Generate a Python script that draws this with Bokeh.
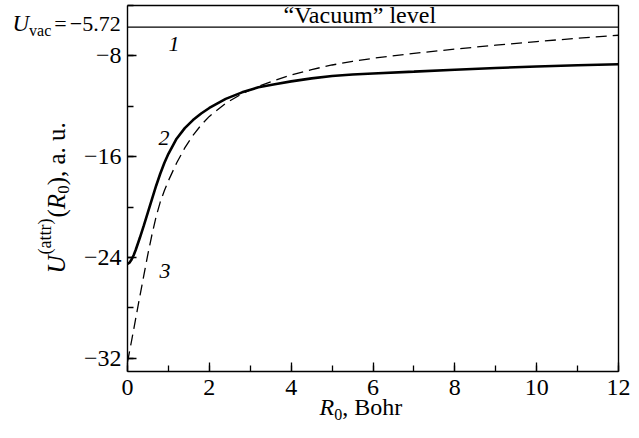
import math
from bokeh.plotting import figure
from bokeh.models import (Label, SingleIntervalTicker, FixedTicker, LinearAxis,
                          CustomJSTickFormatter, ColumnDataSource, Range1d)
from bokeh.embed import file_html
from bokeh.resources import INLINE

# ---------------- data ----------------
R_MIN, R_MAX = 0, 12
U_MIN, U_MAX = -33.04, -4.0
U_VAC = -5.72

# curve 2 (solid)
r_solid = [0.0, 0.05, 0.1, 0.15, 0.2, 0.3, 0.4, 0.5, 0.6, 0.7, 0.8, 0.9, 1.0, 1.2, 1.4,
           1.6, 1.8, 2.0, 2.4, 2.8, 3.2, 3.6, 4.0, 4.5, 5.0, 5.5, 6.0, 7.0, 8.0, 9.0,
           10.0, 11.0, 12.0]
u_solid = [-24.5, -24.4, -24.15, -23.82, -23.4, -22.45, -21.45, -20.4, -19.35, -18.3,
           -17.35, -16.5, -15.77, -14.57, -13.73, -13.09, -12.57, -12.13, -11.41,
           -10.89, -10.49, -10.25, -10.02, -9.78, -9.6, -9.48, -9.39, -9.25, -9.1,
           -8.96, -8.84, -8.74, -8.66]

# curve 3 (dashed)
r_dash = [0.0, 0.1, 0.2, 0.3, 0.4, 0.5, 0.6, 0.7, 0.8, 0.9, 1.0, 1.2, 1.4, 1.6, 1.8,
          2.0, 2.4, 2.8, 3.2, 3.6, 4.0, 4.5, 5.0, 5.5, 6.0, 7.0, 8.0, 9.0, 10.0, 11.0,
          12.0]
u_dash = [-32.3, -30.6, -28.85, -27.1, -25.4, -23.7, -22.15, -20.75, -19.6, -18.7,
          -17.9, -16.5, -15.3, -14.3, -13.48, -12.8, -11.76, -11.0, -10.42, -9.94,
          -9.52, -9.08, -8.72, -8.43, -8.19, -7.8, -7.46, -7.15, -6.86, -6.6, -6.36]

X_TICK_STEP = 2
Y_TICK_STEP = 8
curve_labels = ["1", "2", "3"]

# ---------------- layout ----------------
W, H = 639, 438
FL, FR, FT, FB = 127, 618, 5, 371     # pixel box of the plotting area
SERIF = "Liberation Serif"
MINUS = "\u2212"

kx = (FR - FL) / (R_MAX - R_MIN)
ky = (FB - FT) / (U_MAX - U_MIN)
x_range = Range1d(R_MIN - FL / kx, R_MAX + (W - FR) / kx)
y_range = Range1d(U_MIN - (H - FB) / ky, U_MAX + FT / ky)

p = figure(width=W, height=H, output_backend="svg", toolbar_location=None,
           x_range=x_range, y_range=y_range, x_axis_type=None, y_axis_type=None,
           min_border=0, title=None)
p.grid.visible = False
p.outline_line_color = None
p.background_fill_color = "white"
p.border_fill_color = "white"

fmt = CustomJSTickFormatter(code="return tick < 0 ? '\\u2212' + Math.abs(tick) : String(tick);")


def make_axis(loc, bounds, ticker, labels=True):
    ax = LinearAxis(fixed_location=loc, bounds=bounds, ticker=ticker, formatter=fmt)
    ax.major_tick_in = 9
    ax.major_tick_out = 0
    ax.minor_tick_in = 6
    ax.minor_tick_out = 0
    ax.axis_line_width = 1.4
    ax.axis_line_color = "black"
    ax.major_tick_line_width = 1.3
    ax.minor_tick_line_width = 1.3
    ax.major_label_text_font = SERIF
    ax.major_label_text_font_size = "24px"
    ax.major_label_text_color = "black" if labels else None
    ax.axis_label = None
    return ax


xb = make_axis(U_MIN, (R_MIN, R_MAX), SingleIntervalTicker(interval=X_TICK_STEP, num_minor_ticks=2))
xb.major_label_standoff = 8
yl = make_axis(R_MIN, (U_MIN, U_MAX), SingleIntervalTicker(interval=Y_TICK_STEP, num_minor_ticks=2))
yl.major_label_standoff = 6
xt = make_axis(U_MAX, (R_MIN, R_MAX), FixedTicker(ticks=[], minor_ticks=[]), labels=False)
yr = make_axis(R_MAX, (U_MIN, U_MAX), FixedTicker(ticks=[], minor_ticks=[]), labels=False)
p.add_layout(xb, "below")
p.add_layout(yl, "left")
p.add_layout(xt, "above")
p.add_layout(yr, "right")

src_s = ColumnDataSource(dict(r=r_solid, u=u_solid))
src_d = ColumnDataSource(dict(r=r_dash, u=u_dash))
p.line("r", "u", source=src_d, line_color="black", line_width=1.3, line_dash="11 6")
p.line("r", "u", source=src_s, line_color="black", line_width=2.6)
p.line(x=[R_MIN, R_MAX], y=[U_VAC, U_VAC], line_color="black", line_width=1.3)

BASE_SHIFT = 0.36  # empirical baseline correction (em)


def lab(px, py, text, size, italic=False, rotated=False):
    """px, py: canvas pixel position of the text baseline start."""
    if rotated:
        px = px - BASE_SHIFT * size
    else:
        py = py - BASE_SHIFT * size
    p.add_layout(Label(x=px, y=H - py, x_units="screen", y_units="screen",
                       text=text, text_font=SERIF, text_font_size=f"{size}px",
                       text_font_style="italic" if italic else "normal",
                       text_align="left", text_baseline="alphabetic",
                       angle=math.pi / 2 if rotated else 0.0, text_color="black"))


# Times metrics (per em) for composing pieces
WID = {' ': .25, '(': .333, ')': .333, ',': .25, '.': .25, '=': .564, MINUS: .564,
       '0': .5, '2': .5, '5': .5, '7': .5, 'a': .444, 'c': .444, 'e': .444, 'h': .5,
       'l': .278, 'm': .778, 'o': .5, 'r': .333, 't': .278, 'u': .5, 'v': .5,
       'B': .667, 'V': .722, 'U': .722, 'R': .611}


def tw(s, size):
    return sum(WID.get(c, .5) for c in s) * size


# "Vacuum" level
lab(283, 23, "\u201cVacuum\u201d level", 24)

# U_vac = −5.72
x0 = 12
lab(x0, 31, "U", 23, italic=True)
x0 += tw("U", 23)
lab(x0, 36, "vac", 16)
x0 += tw("vac", 16) + 3
lab(x0, 31, "=", 22)
x0 += tw("=", 22) + 3
lab(x0, 31, MINUS + f"{abs(U_VAC):.2f}", 22)

# curve numbers
lab(168, 51, curve_labels[0], 22, italic=True)
lab(158, 145, curve_labels[1], 22, italic=True)
lab(159, 278, curve_labels[2], 22, italic=True)

# x-axis label: R_0, Bohr
x0 = 319
lab(x0, 415, "R", 24, italic=True)
x0 += tw("R", 24)
lab(x0, 420, "0", 16)
x0 += tw("0", 16)
lab(x0, 415, ", Bohr", 24)

# y-axis label (rotated): U^(attr)(R_0), a. u.
BX, SUPX, SUBX = 65, 51, 69
y0 = 273
lab(BX, y0, "U", 25, italic=True, rotated=True)
y0 -= tw("U", 25) + 1
lab(SUPX, y0, "(attr)", 18, rotated=True)
y0 -= tw("(attr)", 18) + 1
lab(BX, y0, "(", 25, rotated=True)
y0 -= tw("(", 25)
lab(BX, y0, "R", 25, italic=True, rotated=True)
y0 -= tw("R", 25)
lab(SUBX, y0, "0", 17, rotated=True)
y0 -= tw("0", 17)
lab(BX, y0, "), a. u.", 25, rotated=True)

open("out.html", "w").write(file_html(p, INLINE))
